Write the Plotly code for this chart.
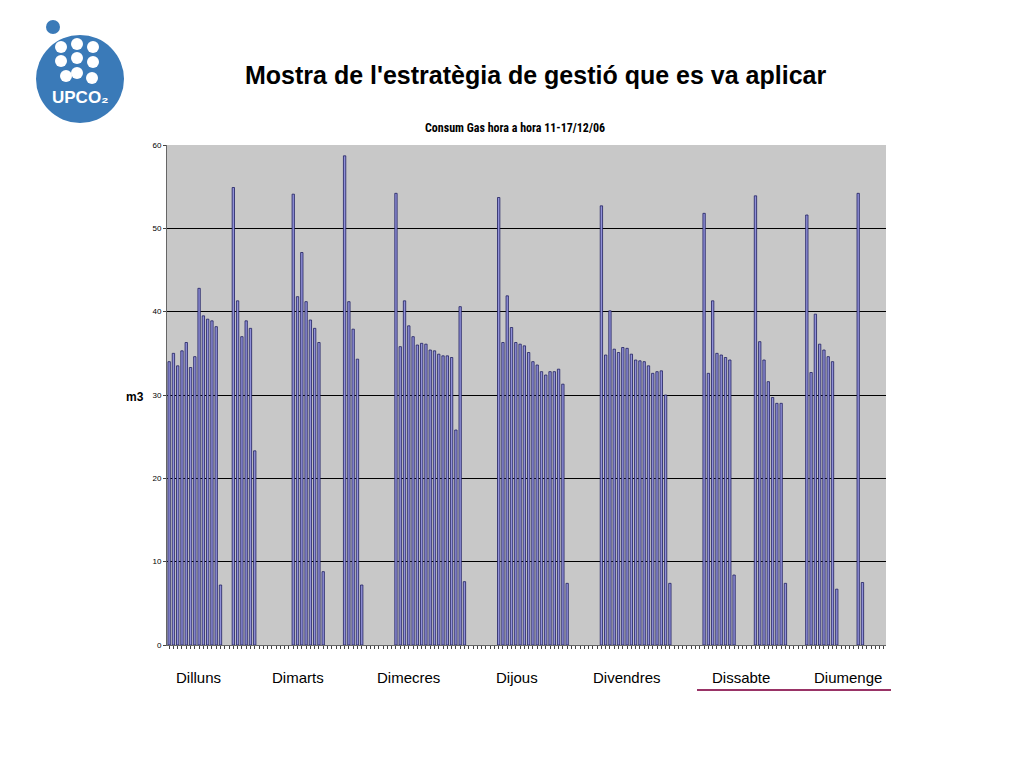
import plotly.graph_objects as go

slots = [0,1,2,3,4,5,6,7,8,9,10,11,12,
         15,16,17,18,19,20,
         29,30,31,32,33,34,35,36,
         41,42,43,44,45,
         53,54,55,56,57,58,59,60,61,62,63,64,65,66,67,68,69,
         77,78,79,80,81,82,83,84,85,86,87,88,89,90,91,92,93,
         101,102,103,104,105,106,107,108,109,110,111,112,113,114,115,116,117,
         125,126,127,128,129,130,131,132,
         137,138,139,140,141,142,143,144,
         149,150,151,152,153,154,155,156,
         161,162]
values = [34,35,33.5,35.3,36.3,33.3,34.6,42.8,39.5,39.1,38.9,38.2,7.2,
          54.9,41.3,37,38.9,38,23.3,
          54.1,41.8,47.1,41.2,39,38,36.3,8.8,
          58.7,41.2,37.9,34.3,7.2,
          54.2,35.8,41.3,38.3,37,36,36.2,36.1,35.4,35.3,34.9,34.7,34.7,34.5,25.8,40.6,7.6,
          53.7,36.3,41.9,38.1,36.3,36.1,35.9,35.1,34,33.6,32.8,32.4,32.8,32.8,33.1,31.3,7.4,
          52.7,34.8,40.1,35.5,35.1,35.7,35.6,34.9,34.2,34.1,34,33.5,32.6,32.8,32.9,30,7.4,
          51.8,32.6,41.3,35,34.8,34.5,34.2,8.4,
          53.9,36.4,34.2,31.6,29.7,29,29,7.4,
          51.6,32.7,39.7,36.1,35.4,34.6,34,6.7,
          54.2,7.5]
days = ["Dilluns","Dimarts","Dimecres","Dijous","Divendres","Dissabte","Diumenge"]
day_px = [198,298,408,517,627,741,848]
yticks = [0,10,20,30,40,50,60]

OFF = 8
W, H = 1024 - OFF, 768 - OFF
L, R, T, B = 167, 886, 145, 645
fig = go.Figure(go.Bar(x=slots, y=values, width=0.55,
                       marker=dict(color="#9090d8", line=dict(color="#202060", width=0.8))))
fig.update_layout(
    width=W, height=H, margin=dict(l=L-OFF, r=W-(R-OFF), t=T-OFF, b=H-(B-OFF)),
    paper_bgcolor="white", plot_bgcolor="#c8c8c8", showlegend=False,
    font=dict(family="Liberation Sans, Arial", color="black"),
    xaxis=dict(range=[-0.5,167.5], showticklabels=False, showgrid=False, zeroline=False,
               ticks="outside", tickvals=list(range(168)), ticklen=3, tickcolor="#444",
               showline=True, linecolor="#666"),
    yaxis=dict(range=[0,60], tickvals=yticks, tickfont=dict(size=8), gridcolor="black",
               gridwidth=1, zeroline=False, ticks="outside", ticklen=3, showline=True, linecolor="#666"),
)
def px(xp): return (xp - L) / (R - L)
def py(yp): return (B - yp) / (B - T)
ann = [dict(text="<b>Mostra de l'estratègia de gestió que es va aplicar</b>", x=535, y=75, size=25, fam="Liberation Sans, Arial"),
       dict(text="<b>Consum Gas hora a hora 11-17/12/06</b>", x=515, y=128, size=12, fam="Liberation Sans Narrow, Arial Narrow, Roboto Condensed, Liberation Sans"),
       dict(text="<b>m3</b>", x=135, y=397, size=12, fam="Liberation Sans, Arial")]
for d, xp in zip(days, day_px):
    ann.append(dict(text=d, x=xp, y=677, size=15, fam="Liberation Sans, Arial"))
for a in ann:
    fig.add_annotation(text=a["text"], x=px(a["x"]), y=py(a["y"]),
                       xref="paper", yref="paper", showarrow=False, font=dict(size=a["size"], family=a["fam"]),
                       xanchor="center", yanchor="middle")
fig.add_shape(type="line", xref="paper", yref="paper", x0=px(697), x1=px(891), y0=py(690), y1=py(690),
              line=dict(color="#993366", width=2))
# logo
fig.add_shape(type="circle", xref="paper", yref="paper", x0=px(36), x1=px(124), y0=py(123), y1=py(35),
              fillcolor="#3a7ab8", line=dict(width=0), layer="below")
fig.add_shape(type="circle", xref="paper", yref="paper", x0=px(46), x1=px(60), y0=py(34), y1=py(20),
              fillcolor="#3a7ab8", line=dict(width=0), layer="below")
dots = [(61,47),(77,44),(93,47),(61,61),(77,58),(93,62),(77,73),(92,78),(66,76)]
for cx, cy in dots:
    fig.add_shape(type="circle", xref="paper", yref="paper", x0=px(cx-6), x1=px(cx+6), y0=py(cy+6), y1=py(cy-6),
                  fillcolor="white", line=dict(width=0), layer="below")
fig.add_annotation(text="<b>UPCO₂</b>", x=px(80), y=py(98), xref="paper", yref="paper",
                   showarrow=False, font=dict(size=17, color="white"), xanchor="center", yanchor="middle")
fig.write_html("out.html")
